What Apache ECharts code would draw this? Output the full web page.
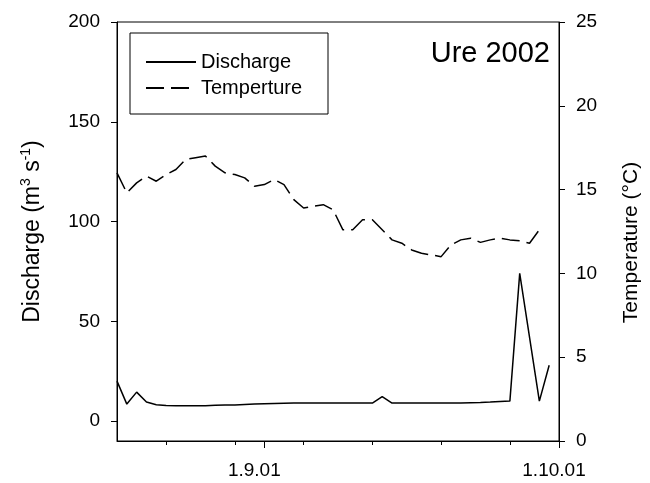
<!DOCTYPE html>
<html lang="en">
<head>
    <meta charset="UTF-8">
    <title>Ure 2002</title>
    <script src="https://cdn.jsdelivr.net/npm/echarts@6/dist/echarts.min.js"></script>
</head>
<body style="margin:0">
<div id="demo" style="width:650px;height:483px"></div>
<script type="text/javascript">

    // days counted from 1.9.01 (0) ; 30 = 1.10.01
    var qDays = [-15,-14,-13,-12,-11,-10,-9,-8,-7,-6,-5,-4,-3,-2,-1,0,1,2,3,4,5,6,7,8,9,10,11,12,13,14,15,16,17,18,19,20,21,22,23,24,25,26,28,29];
    var discharge = [20,8.5,14.5,9.5,8.2,7.8,7.7,7.7,7.7,7.7,7.9,8,8.1,8.3,8.5,8.7,8.8,8.9,9,9,9,9,9,9.1,9.1,9,9,12.2,9,9,9,9,9,9,9,9.1,9.2,9.3,9.5,9.8,10,74,10,28];

    var tDays = [-15,-14,-13,-12,-11,-10,-9,-8,-7,-6,-5,-4,-3,-2,-1,0,1,2,3,4,5,6,7,8,9,10,11,12,13,14,15,16,17,18,19,20,21,22,23,24,25,26,27,28,28.5];
    var temperature = [16,14.8,15.4,15.8,15.5,15.9,16.2,16.8,16.9,17,16.4,16,15.9,15.7,15.2,15.3,15.6,15.3,14.4,13.9,14,14.1,13.8,12.6,12.6,13.2,13.2,12.6,12,11.8,11.4,11.2,11.1,11,11.7,12,12.1,11.85,12,12.1,12,11.95,11.8,12.6,12.6];

    var xLabelDays = [0, 30];
    var xLabels = {0: '{a|1.9.01}', 30: '{b|1.10.01}'};
    var weekTicks = [-10, -3, 4, 11, 18, 25];
    var qTicks = [0, 50, 100, 150, 200];

    function pairs(xs, ys) {
        var out = [];
        for (var i = 0; i < xs.length; i++) {
            out.push([xs[i], ys[i]]);
        }
        return out;
    }

    var font = 'Liberation Sans';
    var myChart = echarts.init(document.getElementById('demo'));
    var option = {
        backgroundColor: '#fff',
        animation: false,
        title: {
            text: 'Ure 2002',
            right: 100,
            top: 39,
            padding: 0,
            textStyle: {fontFamily: font, fontSize: 29, fontWeight: 'normal', color: '#000'}
        },
        legend: {
            left: 145,
            top: 52,
            padding: 0,
            orient: 'vertical',
            itemWidth: 50,
            itemHeight: 14,
            itemGap: 6,
            itemStyle: {opacity: 0},
            textStyle: {fontFamily: font, fontSize: 20, color: '#000', lineHeight: 20},
            data: ['Discharge', 'Temperture']
        },
        graphic: [{
            type: 'rect',
            shape: {x: 130, y: 33, width: 198, height: 81},
            style: {fill: 'none', stroke: '#000', lineWidth: 1}
        }],
        grid: {
            left: 117, right: 87, top: 22, bottom: 42,
            show: true, borderColor: '#000', borderWidth: 1
        },
        xAxis: [{
            type: 'value',
            min: -15, max: 30,
            splitLine: {show: false},
            axisLine: {onZero: false, lineStyle: {color: '#000'}},
            axisTick: {length: 7, customValues: xLabelDays, lineStyle: {color: '#000'}},
            axisLabel: {
                customValues: xLabelDays,
                margin: 20,
                fontFamily: font, fontSize: 19, color: '#000',
                rich: {
                    a: {fontFamily: font, fontSize: 19, color: '#000', padding: [0, 20, 0, 0]},
                    b: {fontFamily: font, fontSize: 19, color: '#000', padding: [0, 10, 0, 0]}
                },
                formatter: function (v) { return xLabels[v] || ''; }
            }
        }, {
            type: 'value',
            min: -15, max: 30,
            position: 'bottom',
            splitLine: {show: false},
            axisLine: {show: false, onZero: false},
            axisTick: {show: true, length: 4, customValues: weekTicks, lineStyle: {color: '#000'}},
            axisLabel: {show: false}
        }],
        yAxis: [{
            type: 'value',
            min: -10, max: 200,
            name: 'Discharge (m{sup|3} s{sup|-1})',
            nameLocation: 'middle',
            nameRotate: 90,
            nameGap: 70,
            nameTextStyle: {
                fontFamily: font, fontSize: 23, color: '#000',
                rich: {sup: {fontFamily: font, fontSize: 14, color: '#000', padding: [0, 0, 14, 0]}}
            },
            splitLine: {show: false},
            axisLine: {show: true, onZero: false, lineStyle: {color: '#000'}},
            axisTick: {show: true, length: 6, customValues: qTicks, lineStyle: {color: '#000'}},
            axisLabel: {customValues: qTicks, margin: 17, fontFamily: font, fontSize: 19, color: '#000'}
        }, {
            type: 'value',
            min: 0, max: 25, interval: 5,
            position: 'right',
            name: 'Temperature (°C)',
            nameLocation: 'middle',
            nameRotate: 90,
            nameGap: 62,
            nameTextStyle: {fontFamily: font, fontSize: 21, color: '#000', padding: [0, 22, 0, 0]},
            splitLine: {show: false},
            axisLine: {show: true, onZero: false, lineStyle: {color: '#000'}},
            axisTick: {show: true, length: 6, lineStyle: {color: '#000'}},
            axisLabel: {margin: 17, fontFamily: font, fontSize: 19, color: '#000'}
        }],
        series: [{
            name: 'Discharge',
            type: 'line',
            xAxisIndex: 0,
            yAxisIndex: 0,
            symbol: 'none',
            lineStyle: {color: '#000', width: 1.5},
            itemStyle: {color: '#000'},
            data: pairs(qDays, discharge)
        }, {
            name: 'Temperture',
            type: 'line',
            xAxisIndex: 0,
            yAxisIndex: 1,
            symbol: 'none',
            lineStyle: {color: '#000', width: 1.5, type: [18, 7]},
            itemStyle: {color: '#000'},
            data: pairs(tDays, temperature)
        }]
    };
    myChart.setOption(option);
</script>
</body>
</html>
